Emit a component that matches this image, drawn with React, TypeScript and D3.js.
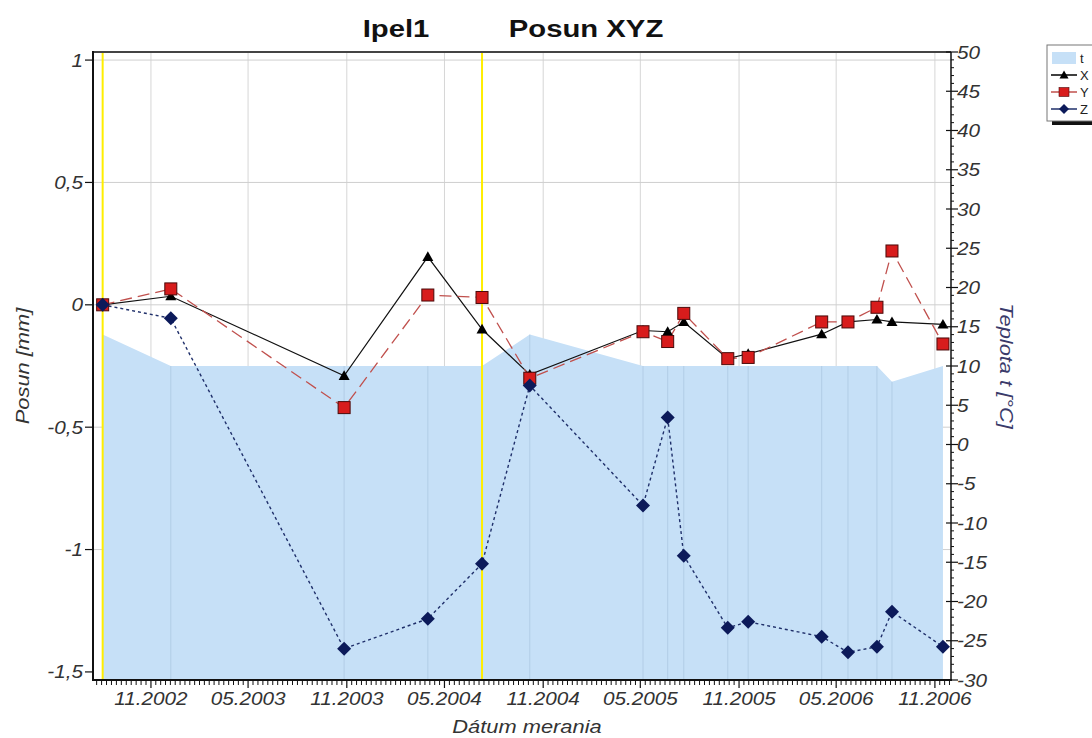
import React from 'react';
import * as d3 from 'd3';

// ---------- data ----------
const measureDates = ['2002-08-03','2002-12-08','2003-10-27','2004-03-31','2004-07-10','2004-10-07','2005-05-06','2005-06-21','2005-07-21','2005-10-11','2005-11-18','2006-04-04','2006-05-23','2006-07-16','2006-08-13','2006-11-16'];
const seriesX = [0, 0.035, -0.29, 0.196, -0.10, -0.285, -0.105, -0.11, -0.07, -0.22, -0.20, -0.12, -0.07, -0.06, -0.07, -0.08];
const seriesY = [0, 0.065, -0.42, 0.04, 0.03, -0.30, -0.11, -0.15, -0.035, -0.22, -0.215, -0.07, -0.07, -0.01, 0.22, -0.16];
const seriesZ = [0, -0.055, -1.405, -1.283, -1.058, -0.33, -0.82, -0.46, -1.025, -1.32, -1.295, -1.356, -1.42, -1.397, -1.254, -1.397];
const temperature = [14, 10, 10, 10, 10, 14, 10, 10, 10, 10, 10, 10, 10, 10, 8, 10];
const xTickLabels = ['11.2002','05.2003','11.2003','05.2004','11.2004','05.2005','11.2005','05.2006','11.2006'];
const leftTicks = [1, 0.5, 0, -0.5, -1, -1.5];
const rightTicks = [50, 45, 40, 35, 30, 25, 20, 15, 10, 5, 0, -5, -10, -15, -20, -25, -30];
const yellowMarkerDates = ['2002-08-03', '2004-07-10'];
const xDomain = ['2002-07-16', '2006-12-01'];
const leftDomain = [-1.533, 1.033];
const rightDomain = [-30, 50];
const legendItems = ['t', 'X', 'Y', 'Z'];

// ---------- layout ----------
const W = 1092, H = 738;
const L = 93, R = 951, T = 52, B = 680;
const FONT = '"Liberation Sans", Arial, sans-serif';
const SX = 1.15; // horizontal text stretch seen in the reference

const parse = d3.timeParse('%Y-%m-%d');
const parseTick = d3.timeParse('%m.%Y');

type TxtProps = { x: number; y: number; rot?: number; sx?: number; anchor?: string; size: number; italic?: boolean; bold?: boolean; fill?: string; children: React.ReactNode };
function Txt({ x, y, rot = 0, sx = SX, anchor = 'start', size, italic, bold, fill = '#333', children }: TxtProps) {
  return (
    <text transform={`translate(${x},${y}) rotate(${rot}) scale(${sx},1)`} textAnchor={anchor as any}
      fontSize={size} fontStyle={italic ? 'italic' : 'normal'} fontWeight={bold ? 'bold' : 'normal'} fill={fill}>
      {children}
    </text>
  );
}

export default function App() {
  const x = d3.scaleTime().domain(xDomain.map(d => parse(d) as Date)).range([L, R]);
  const yL = d3.scaleLinear().domain(leftDomain).range([B, T]);
  const yR = d3.scaleLinear().domain(rightDomain).range([B, T]);

  const dts = measureDates.map(d => parse(d) as Date);
  const tickDates = xTickLabels.map(s => parseTick(s) as Date);

  const minor: Date[] = [];
  const ext = [d3.timeMonth.offset(tickDates[0], -6), ...tickDates, d3.timeMonth.offset(tickDates[tickDates.length - 1], 6)];
  for (let i = 0; i < ext.length - 1; i++) {
    const a = ext[i].getTime(), b = ext[i + 1].getTime();
    for (let k = 1; k < 20; k++) {
      const t = new Date(a + (b - a) * k / 20);
      if (x(t) >= L && x(t) <= R) minor.push(t);
    }
  }

  const area = d3.area<number>().x((_, i) => x(dts[i])).y0(B).y1(d => yR(d));
  const line = (vals: number[]) => d3.line<number>().x((_, i) => x(dts[i])).y(d => yL(d))(vals) || '';

  const tri = (cx: number, cy: number, s = 5.5) => `M${cx},${cy - s}L${cx + s},${cy + s * 0.75}L${cx - s},${cy + s * 0.75}Z`;
  const dia = (cx: number, cy: number, s = 7) => `M${cx},${cy - s}L${cx + s},${cy}L${cx},${cy + s}L${cx - s},${cy}Z`;

  const fmtL = (v: number) => String(v).replace('.', ',');
  const minorRight = d3.range(-30, 51, 1).filter(v => v % 5 !== 0);
  const midY = (T + B) / 2;

  const legendY = (i: number) => 58 + i * 17;

  return (
    <svg width={W} height={H} style={{ position: 'absolute', left: 0, top: 0, background: '#fff' }} fontFamily={FONT}>
      <rect x={0} y={0} width={W} height={H} fill="#fff" />
      {/* title */}
      <Txt x={396} y={37} anchor="middle" size={24} bold sx={1.22} fill="#111">Ipel1</Txt>
      <Txt x={586} y={37} anchor="middle" size={24} bold sx={1.22} fill="#111">Posun XYZ</Txt>

      {/* grid */}
      {tickDates.map((d, i) => (
        <line key={'vg' + i} x1={x(d)} x2={x(d)} y1={T} y2={B} stroke="#d6d6d6" strokeWidth={1} />
      ))}
      {leftTicks.slice(0, 5).map((v, i) => (
        <line key={'hg' + i} x1={L} x2={R} y1={yL(v)} y2={yL(v)} stroke="#cfcfcf" strokeWidth={1} />
      ))}

      {/* temperature area */}
      <path d={area(temperature) || ''} fill="#c6e0f7" />
      {dts.slice(1, -1).map((d, i) => (
        <line key={'seam' + i} x1={x(d)} x2={x(d)} y1={yR(temperature[i + 1])} y2={B} stroke="#aac6e0" strokeWidth={1} opacity={0.7} />
      ))}

      {/* yellow markers */}
      {yellowMarkerDates.map((d, i) => {
        const xx = x(parse(d) as Date);
        return <line key={'yl' + i} x1={xx} x2={xx} y1={T} y2={B} stroke="#ffee00" strokeWidth={2} />;
      })}

      {/* series lines */}
      <path d={line(seriesX)} fill="none" stroke="#111" strokeWidth={1.2} />
      <path d={line(seriesY)} fill="none" stroke="#c0504d" strokeWidth={1.3} strokeDasharray="12,6" />
      <path d={line(seriesZ)} fill="none" stroke="#1f2f6a" strokeWidth={1.4} strokeDasharray="3,3" />

      {/* markers */}
      {seriesX.map((v, i) => <path key={'mx' + i} d={tri(x(dts[i]), yL(v))} fill="#000" />)}
      {seriesY.map((v, i) => (
        <rect key={'my' + i} x={x(dts[i]) - 6} y={yL(v) - 6} width={12} height={12} fill="#d81c1c" stroke="#4a0a0a" strokeWidth={1} />
      ))}
      {seriesZ.map((v, i) => <path key={'mz' + i} d={dia(x(dts[i]), yL(v))} fill="#0c1a5a" />)}

      {/* frame */}
      <line x1={L} x2={R} y1={T} y2={T} stroke="#444" strokeWidth={2} />
      <line x1={L} x2={L} y1={T - 1} y2={B + 1} stroke="#111" strokeWidth={2} />
      <line x1={L - 1} x2={R + 1} y1={B} y2={B} stroke="#111" strokeWidth={2} />
      <line x1={R} x2={R} y1={T} y2={B} stroke="#111" strokeWidth={1.5} />

      {/* left axis */}
      {leftTicks.map((v, i) => (
        <g key={'lt' + i}>
          <line x1={L - 8} x2={L} y1={yL(v)} y2={yL(v)} stroke="#111" strokeWidth={1.2} />
          <Txt x={L - 10} y={yL(v) + 6.5} anchor="end" size={18} italic>{fmtL(v)}</Txt>
        </g>
      ))}
      <Txt x={29} y={midY} rot={-90} anchor="middle" size={19} italic>Posun [mm]</Txt>

      {/* right axis */}
      {minorRight.map((v, i) => (
        <line key={'rm' + i} x1={R} x2={R + 3} y1={yR(v)} y2={yR(v)} stroke="#111" strokeWidth={1} />
      ))}
      {rightTicks.map((v, i) => (
        <g key={'rt' + i}>
          <line x1={R - 5} x2={R + 7} y1={yR(v)} y2={yR(v)} stroke="#111" strokeWidth={1.2} />
          <Txt x={R + 6} y={yR(v) + 6.5} size={18} italic>{v}</Txt>
        </g>
      ))}
      <Txt x={1000} y={midY} rot={90} anchor="middle" size={19} italic fill="#3a3a6a">Teplota t [°C]</Txt>

      {/* bottom axis */}
      {minor.map((d, i) => (
        <line key={'bm' + i} x1={x(d)} x2={x(d)} y1={B} y2={B + 5} stroke="#111" strokeWidth={1} />
      ))}
      {tickDates.map((d, i) => (
        <g key={'bt' + i}>
          <line x1={x(d)} x2={x(d)} y1={B} y2={B + 8} stroke="#111" strokeWidth={1.2} />
          <Txt x={x(d)} y={B + 25} anchor="middle" size={18} italic>{xTickLabels[i]}</Txt>
        </g>
      ))}
      <Txt x={527} y={733} anchor="middle" size={19} italic>Dátum merania</Txt>

      {/* legend */}
      <g>
        <rect x={1052} y={49} width={45} height={76} fill="#111" />
        <rect x={1047} y={45} width={50} height={76} fill="#fff" stroke="#777" strokeWidth={1} />
        <rect x={1052} y={legendY(0) - 6} width={24} height={12} fill="#c6e0f7" />
        <line x1={1051} x2={1077} y1={legendY(1)} y2={legendY(1)} stroke="#000" strokeWidth={1.5} />
        <path d={tri(1064, legendY(1), 4.5)} fill="#000" />
        <line x1={1051} x2={1077} y1={legendY(2)} y2={legendY(2)} stroke="#c0504d" strokeWidth={1.5} />
        <rect x={1059} y={legendY(2) - 4.5} width={10} height={9} fill="#d81c1c" stroke="#4a0a0a" strokeWidth={0.6} />
        <line x1={1051} x2={1077} y1={legendY(3)} y2={legendY(3)} stroke="#1f2f6a" strokeWidth={1.5} />
        <path d={dia(1064, legendY(3), 5)} fill="#0c1a5a" />
        {legendItems.map((s, i) => (
          <Txt key={'lg' + i} x={1080} y={legendY(i) + 5} size={13} sx={1} fill="#222">{s}</Txt>
        ))}
      </g>
    </svg>
  );
}
